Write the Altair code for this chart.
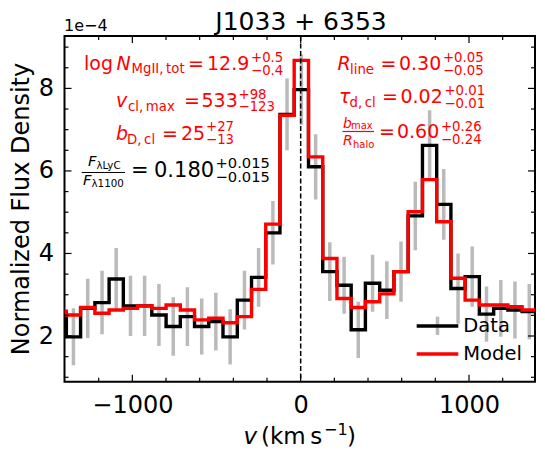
import altair as alt
import pandas as pd

# ---------------- data ----------------
V = [-1434, -1350, -1265, -1180, -1096, -1011, -927, -842, -757, -673, -588, -504,
     -419, -334, -250, -165, -81, 4, 89, 173, 258, 342, 427, 512, 596, 681, 766,
     850, 935, 1019, 1104, 1189, 1273, 1358, 1442]
DATA = [2.55, 1.98, 2.67, 2.81, 3.38, 2.73, 2.73, 2.51, 2.23, 2.47, 2.23, 2.35,
        1.98, 2.87, 3.42, 4.50, 7.37, 7.97, 6.10, 3.56, 3.23, 2.15, 3.28, 3.11,
        3.56, 4.91, 6.62, 5.19, 3.15, 3.44, 2.53, 2.67, 2.63, 2.59, 2.52]
MODEL = [2.60, 2.51, 2.69, 2.55, 2.63, 2.67, 2.73, 2.67, 2.75, 2.63, 2.39, 2.43,
         2.32, 2.47, 3.13, 4.71, 7.35, 8.68, 6.34, 3.88, 2.91, 2.69, 2.83, 3.02,
         3.56, 5.01, 5.79, 4.77, 3.40, 2.87, 2.75, 2.75, 2.71, 2.63, 2.63]
ERR = [0.70, 0.69, 0.72, 0.77, 0.75, 0.73, 0.73, 0.75, 0.71, 0.71, 0.68, 0.70,
       0.67, 0.71, 0.71, 0.77, 0.87, 0.85, 0.79, 0.71, 0.69, 0.68, 0.69, 0.70,
       0.73, 0.83, 0.85, 0.86, 0.85, 0.73, 0.67, 0.69, 0.69, 0.67, 0.68]

X_MAJOR = [-1000, 0, 1000]
X_MINOR = [-1200, -800, -600, -400, -200, 200, 400, 600, 800, 1200]
Y_MAJOR = [2, 4, 6, 8]
Y_MINOR = [1.0, 1.5, 2.5, 3.0, 3.5, 4.5, 5.0, 5.5, 6.5, 7.0, 7.5, 8.5, 9.0]
VLINE = [0]

# ---------------- layout ----------------
X0, Y0 = 64.5, 36.0          # plot origin on the page
W, H = 470.5, 345.7
FONT = "DejaVu Sans"
RED = "#ff0000"
GRAY = "#bababa"

xs = alt.Scale(domain=[-1403, 1392], nice=False, zero=False)
ys = alt.Scale(domain=[0.893, 9.27], nice=False, zero=False)
xaxis = alt.Axis(values=X_MAJOR, format="d", ticks=False, domain=False, grid=False,
                 labelFontSize=24, labelPadding=12, labelColor="black",
                 labelFont=FONT, title=None)
yaxis = alt.Axis(values=Y_MAJOR, format="d", ticks=False, domain=False, grid=False,
                 labelFontSize=24, labelPadding=11, labelColor="black",
                 labelFont=FONT, title=None)

df = pd.DataFrame({"v": V, "data": DATA, "model": MODEL, "err": ERR})
base = alt.Chart(df)

errbars = base.transform_calculate(
    lo="datum.data - datum.err", hi="datum.data + datum.err"
).mark_rule(color=GRAY, strokeWidth=3.5, clip=True).encode(
    x=alt.X("v:Q", scale=xs, axis=xaxis),
    y=alt.Y("lo:Q", scale=ys, axis=yaxis),
    y2="hi:Q",
)
data_line = base.mark_line(interpolate="step", color="black", strokeWidth=3.4,
                           strokeJoin="miter", clip=True).encode(
    x=alt.X("v:Q", scale=xs, axis=xaxis),
    y=alt.Y("data:Q", scale=ys, axis=yaxis),
)
model_line = base.mark_line(interpolate="step", color=RED, strokeWidth=3.4,
                            strokeJoin="miter", clip=True).encode(
    x=alt.X("v:Q", scale=xs, axis=xaxis),
    y=alt.Y("model:Q", scale=ys, axis=yaxis),
)
zero_line = alt.Chart(pd.DataFrame({"v": VLINE})).mark_rule(
    color="black", strokeWidth=1.5, strokeDash=[5, 2.5]
).encode(x=alt.X("v:Q", scale=xs, axis=xaxis))


def xticks(vals, length):
    d = alt.Chart(pd.DataFrame({"t": vals}))
    bot = d.mark_rule(color="black", strokeWidth=1.2).encode(
        x=alt.X("t:Q", scale=xs, axis=xaxis), y=alt.value(H), y2=alt.value(H - length))
    top = d.mark_rule(color="black", strokeWidth=1.2).encode(
        x=alt.X("t:Q", scale=xs, axis=xaxis), y=alt.value(0), y2=alt.value(length))
    return [bot, top]


def yticks(vals, length):
    d = alt.Chart(pd.DataFrame({"t": vals}))
    lft = d.mark_rule(color="black", strokeWidth=1.2).encode(
        y=alt.Y("t:Q", scale=ys, axis=yaxis), x=alt.value(0), x2=alt.value(length))
    rgt = d.mark_rule(color="black", strokeWidth=1.2).encode(
        y=alt.Y("t:Q", scale=ys, axis=yaxis), x=alt.value(W), x2=alt.value(W - length))
    return [lft, rgt]


ONE = pd.DataFrame({"k": [0]})


def T(s, x, y, size, color="black", italic=False, align="left",
      baseline="alphabetic", angle=0):
    kw = dict(text=s, fontSize=size, color=color, font=FONT, align=align,
              baseline=baseline)
    if italic:
        kw["fontStyle"] = "italic"
    if angle:
        kw["angle"] = angle
    return alt.Chart(ONE).mark_text(**kw).encode(
        x=alt.value(x - X0), y=alt.value(y - Y0))


def HR(x1, x2, y, color="black", width=1.2):
    return alt.Chart(ONE).mark_rule(color=color, strokeWidth=width).encode(
        x=alt.value(x1 - X0), x2=alt.value(x2 - X0), y=alt.value(y - Y0))


def VR(x, y1, y2, color="black", width=1.2):
    return alt.Chart(ONE).mark_rule(color=color, strokeWidth=width).encode(
        x=alt.value(x - X0), y=alt.value(y1 - Y0), y2=alt.value(y2 - Y0))


F, S = 19, 13.3
texts = [
    # title, offset text, axis titles
    T("J1033 + 6353", 301, 30, 25, align="center"),
    T("1e\u22124", 64, 31, 16),
    T("Normalized Flux Density", 22, 209, 24, angle=270, align="center",
      baseline="middle"),
    T("v", 243.5, 444.5, 23, italic=True),
    T("(km\u2009s", 261, 444.5, 23),
    T("\u22121", 324, 435.5, 16),
    T(")", 347, 444.5, 23),
    # left red block
    T("log", 84, 70, F, RED),
    T("N", 116.5, 70, F, RED, italic=True),
    T("MgII,\u2009tot", 131.5, 73.5, S, RED),
    T("=", 188, 70, F, RED),
    T("12.9", 207, 70, F, RED),
    T("+0.5", 251, 62, S, RED),
    T("\u22120.4", 251, 75, S, RED),
    T("v", 116, 107.3, F, RED, italic=True),
    T("cl,\u2009max", 128, 111, S, RED),
    T("=", 184, 107.3, F, RED),
    T("533", 201.5, 107.3, F, RED),
    T("+98", 238.5, 99, S, RED),
    T("\u2212123", 238.5, 111.5, S, RED),
    T("b", 116, 140, F, RED, italic=True),
    T("D,\u2009cl", 127, 144, S, RED),
    T("=", 162, 140, F, RED),
    T("25", 181, 140, F, RED),
    T("+27", 206, 131.5, S, RED),
    T("\u221213", 206, 144.5, S, RED),
    # black fraction block
    T("F", 88, 166.5, 14.7, italic=True),
    T("\u03bbLyC", 96.5, 169, 10.3),
    T("F", 83, 185, 14.7, italic=True),
    T("\u03bb1100", 91.5, 187.5, 10.3),
    T("=", 131, 177.3, 21),
    T("0.180", 154, 177.3, 21),
    T("+0.015", 215.5, 168.3, 14.7),
    T("\u22120.015", 215.5, 181.8, 14.7),
    # right red block
    T("R", 337.5, 70, F, RED, italic=True),
    T("line", 350, 74, S, RED),
    T("=", 380.5, 70, F, RED),
    T("0.30", 399, 70, F, RED),
    T("+0.05", 443, 62, S, RED),
    T("\u22120.05", 443, 75, S, RED),
    T("\u03c4", 339, 103.3, F, RED, italic=True),
    T("d,\u2009cl", 349.5, 107.5, S, RED),
    T("=", 382, 103.3, F, RED),
    T("0.02", 400.5, 103.3, F, RED),
    T("+0.01", 444.5, 95, S, RED),
    T("\u22120.01", 444.5, 108, S, RED),
    T("b", 343, 128, 14, RED, italic=True),
    T("max", 351, 129.5, 10, RED),
    T("R", 343, 145.5, 14, RED, italic=True),
    T("halo", 353, 148.5, 10, RED),
    T("=", 379, 138.3, F, RED),
    T("0.60", 397, 138.3, F, RED),
    T("+0.26", 441, 131, S, RED),
    T("\u22120.24", 441, 144.5, S, RED),
    # legend
    T("Data", 463.3, 326, 19.5, baseline="middle"),
    T("Model", 463.3, 354, 19.5, baseline="middle"),
]
rules = [
    HR(81.7, 125, 172.5),
    HR(342.5, 374, 131.5, RED),
    VR(437.5, 316.7, 335, GRAY, 3.5),
    HR(416.7, 458.3, 326, "black", 3.4),
    HR(416.7, 458.3, 354, RED, 3.4),
]

layers = ([errbars, data_line, model_line, zero_line]
          + xticks(X_MAJOR, 7) + xticks(X_MINOR, 4)
          + yticks(Y_MAJOR, 7) + yticks(Y_MINOR, 4)
          + rules + texts)

chart = alt.layer(*layers).properties(
    width=W, height=H,
    autosize=alt.AutoSizeParams(type="none"),
    padding={"left": X0 - 8, "top": Y0 - 8, "right": 2, "bottom": 72},
).configure(font=FONT).configure_view(stroke="black", strokeWidth=2)

chart.save("out.html", embed_options={"renderer": "svg", "actions": False})
